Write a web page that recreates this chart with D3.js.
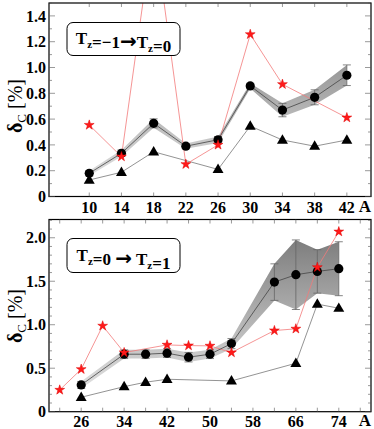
<!DOCTYPE html>
<html>
<head>
<meta charset="utf-8">
<script src="https://cdn.jsdelivr.net/npm/d3@7"></script>
<style>
  body { margin: 0; background: #fff; }
  svg { display: block; }
</style>
</head>
<body>
<div id="chart"></div>
<script>
// ---- top panel: Tz=-1 -> Tz=0 ----
const topA = [10, 14, 18, 22, 26, 30, 34, 38, 42];
const topCircle = [0.18, 0.335, 0.567, 0.39, 0.44, 0.857, 0.67, 0.769, 0.94];
const topErr = [0.02, 0.025, 0.035, 0.02, 0.025, 0.02, 0.052, 0.058, 0.08];
const topTriA = [10, 14, 18, 26, 30, 34, 38, 42];
const topTri = [0.128, 0.188, 0.347, 0.21, 0.546, 0.438, 0.39, 0.438];
const topStarA = [10, 14, 18, 22, 26, 30, 34, 42];
const topStar = [0.554, 0.309, 2.1, 0.25, 0.4, 1.257, 0.87, 0.611];
const topXTicks = [10, 14, 18, 22, 26, 30, 34, 38, 42];
const topYTicks = [0, 0.2, 0.4, 0.6, 0.8, 1.0, 1.2, 1.4];

// ---- bottom panel: Tz=0 -> Tz=1 ----
const botA = [26, 34, 38, 42, 46, 50, 54, 62, 66, 70, 74];
const botCircle = [0.308, 0.661, 0.661, 0.673, 0.627, 0.661, 0.783, 1.49, 1.575, 1.613, 1.644];
const botErr = [0.04, 0.05, 0.05, 0.05, 0.055, 0.05, 0.058, 0.21, 0.40, 0.25, 0.31];
const botTriA = [26, 34, 38, 42, 54, 66, 70, 74];
const botTri = [0.166, 0.288, 0.339, 0.373, 0.354, 0.557, 1.237, 1.19];
const botStarA = [22, 26, 30, 34, 42, 46, 50, 54, 62, 66, 70, 74];
const botStar = [0.25, 0.488, 0.987, 0.68, 0.768, 0.76, 0.757, 0.68, 0.933, 0.953, 1.66, 2.07];
const botXTicks = [22, 26, 30, 34, 38, 42, 46, 50, 54, 58, 62, 66, 70, 74, 78];
const botXLabels = [26, 34, 42, 50, 58, 66, 74];
const botYTicks = [0, 0.5, 1.0, 1.5, 2.0];

const width = 374, height = 429;
const serif = "'Liberation Serif', 'DejaVu Serif', serif";

const svg = d3.select("#chart").append("svg")
    .attr("width", width)
    .attr("height", height);

const defs = svg.append("defs");

function zip(xs, ys) {
  return xs.map((x, i) => ({A: x, v: ys[i]}));
}

function drawPanel(cfg) {
  const x = d3.scaleLinear().domain(cfg.xDomain).range([cfg.left, cfg.right]);
  const y = d3.scaleLinear().domain(cfg.yDomain).range([cfg.bottom, cfg.top]);

  // clip + gradient for the band
  defs.append("clipPath").attr("id", cfg.id + "-clip")
    .append("rect")
      .attr("x", cfg.left).attr("y", cfg.top)
      .attr("width", cfg.right - cfg.left).attr("height", cfg.bottom - cfg.top);

  const grad = defs.append("linearGradient")
      .attr("id", cfg.id + "-grad")
      .attr("gradientUnits", "userSpaceOnUse")
      .attr("x1", 0).attr("x2", 0)
      .attr("y1", cfg.top).attr("y2", cfg.bottom);
  grad.append("stop").attr("offset", "0%").attr("stop-color", cfg.gradTop);
  grad.append("stop").attr("offset", "100%").attr("stop-color", cfg.gradBottom);

  const g = svg.append("g").attr("clip-path", `url(#${cfg.id}-clip)`);

  const circles = cfg.A.map((a, i) => ({A: a, v: cfg.circle[i], e: cfg.err[i]}));

  // error band
  const band = d3.area()
      .x(d => x(d.A))
      .y0(d => y(d.v - d.e))
      .y1(d => y(d.v + d.e));
  g.append("path")
      .datum(circles)
      .attr("d", band)
      .attr("fill", `url(#${cfg.id}-grad)`)
      .attr("stroke", "none");

  // error bars
  const bars = g.append("g")
      .attr("stroke", "#666")
      .attr("stroke-width", 0.8);
  bars.selectAll(".bar")
    .data(circles)
    .join("line")
      .attr("x1", d => x(d.A)).attr("x2", d => x(d.A))
      .attr("y1", d => y(d.v - d.e)).attr("y2", d => y(d.v + d.e));
  bars.selectAll(".capTop")
    .data(circles)
    .join("line")
      .attr("x1", d => x(d.A) - 4).attr("x2", d => x(d.A) + 4)
      .attr("y1", d => y(d.v + d.e)).attr("y2", d => y(d.v + d.e));
  bars.selectAll(".capBot")
    .data(circles)
    .join("line")
      .attr("x1", d => x(d.A) - 4).attr("x2", d => x(d.A) + 4)
      .attr("y1", d => y(d.v - d.e)).attr("y2", d => y(d.v - d.e));

  const line = d3.line().x(d => x(d.A)).y(d => y(d.v));

  const tri = zip(cfg.triA, cfg.tri);
  const star = zip(cfg.starA, cfg.star);

  // connecting lines
  g.append("path").datum(tri)
      .attr("d", line).attr("fill", "none")
      .attr("stroke", "#777").attr("stroke-width", 0.8);
  g.append("path").datum(star)
      .attr("d", line).attr("fill", "none")
      .attr("stroke", "#f27a7a").attr("stroke-width", 0.8);
  g.append("path").datum(circles)
      .attr("d", line).attr("fill", "none")
      .attr("stroke", "#444").attr("stroke-width", 0.8);

  // markers
  g.append("g").selectAll("path")
    .data(tri)
    .join("path")
      .attr("transform", d => `translate(${x(d.A)},${y(d.v) + 0.5})`)
      .attr("d", d3.symbol(d3.symbolTriangle, 52))
      .attr("fill", "#000");
  g.append("g").selectAll("circle")
    .data(circles)
    .join("circle")
      .attr("cx", d => x(d.A))
      .attr("cy", d => y(d.v))
      .attr("r", 4.6)
      .attr("fill", "#000");
  g.append("g").selectAll("path")
    .data(star)
    .join("path")
      .attr("transform", d => `translate(${x(d.A)},${y(d.v)})`)
      .attr("d", d3.symbol(d3.symbolStar, 30))
      .attr("fill", "#ff1a1a")
      .attr("stroke", "#e00000")
      .attr("stroke-width", 0.5);

  // frame
  svg.append("rect")
      .attr("x", cfg.left).attr("y", cfg.top)
      .attr("width", cfg.right - cfg.left).attr("height", cfg.bottom - cfg.top)
      .attr("fill", "none")
      .attr("stroke", "#000")
      .attr("stroke-width", 1.2);

  // x ticks, bottom and top, pointing inward
  const ticks = svg.append("g").attr("stroke", "#555").attr("stroke-width", 0.6);
  ticks.selectAll(".xb")
    .data(cfg.xTicks)
    .join("line")
      .attr("x1", d => x(d)).attr("x2", d => x(d))
      .attr("y1", cfg.bottom).attr("y2", cfg.bottom - 4);
  ticks.selectAll(".xt")
    .data(cfg.xTicks)
    .join("line")
      .attr("x1", d => x(d)).attr("x2", d => x(d))
      .attr("y1", cfg.top).attr("y2", cfg.top + 4);

  // y ticks every 0.1, longer on labelled values
  const yMinor = d3.range(0, cfg.yDomain[1] + 1e-6, 0.1).map(v => +v.toFixed(1));
  const isMajor = v => cfg.yTicks.some(t => Math.abs(t - v) < 1e-6);
  ticks.selectAll(".yl")
    .data(yMinor)
    .join("line")
      .attr("x1", cfg.left).attr("x2", d => cfg.left + (isMajor(d) ? 6 : 3))
      .attr("y1", d => y(d)).attr("y2", d => y(d));
  ticks.selectAll(".yr")
    .data(yMinor)
    .join("line")
      .attr("x1", cfg.right).attr("x2", d => cfg.right - (isMajor(d) ? 6 : 3))
      .attr("y1", d => y(d)).attr("y2", d => y(d));

  // tick labels
  svg.append("g").selectAll("text")
    .data(cfg.xLabels)
    .join("text")
      .attr("x", d => x(d))
      .attr("y", cfg.bottom + cfg.xLabelDy)
      .attr("text-anchor", "middle")
      .attr("font-family", serif)
      .attr("font-weight", "bold")
      .attr("font-size", "16px")
      .text(d => d);

  svg.append("g").selectAll("text")
    .data(cfg.yTicks)
    .join("text")
      .attr("x", cfg.left - 3)
      .attr("y", d => y(d))
      .attr("dy", "0.35em")
      .attr("text-anchor", "end")
      .attr("font-family", serif)
      .attr("font-weight", "bold")
      .attr("font-size", "16px")
      .text(d => d === 0 ? "0" : d.toFixed(1));

  // "A" axis title
  svg.append("text")
      .attr("x", 365)
      .attr("y", cfg.bottom + cfg.xLabelDy - 1)
      .attr("text-anchor", "middle")
      .attr("font-family", serif)
      .attr("font-weight", "bold")
      .attr("font-size", "17px")
      .text("A");

  // y axis title
  const yt = svg.append("text")
      .attr("transform", `translate(22,${cfg.yTitleY}) rotate(-90)`)
      .attr("text-anchor", "middle")
      .attr("font-family", serif)
      .attr("font-size", "20px");
  yt.append("tspan").attr("font-weight", "bold").text("δ");
  yt.append("tspan").attr("font-size", "13px").attr("dy", 4).text("C");
  yt.append("tspan").attr("dy", -4).text(" [%]");

  // legend box
  svg.append("rect")
      .attr("x", cfg.legend.x).attr("y", cfg.legend.y)
      .attr("width", cfg.legend.w).attr("height", cfg.legend.h)
      .attr("rx", 6)
      .attr("fill", "#fff")
      .attr("stroke", "#000")
      .attr("stroke-width", 1);
  const lt = svg.append("text")
      .attr("x", cfg.legend.x + cfg.legend.w / 2)
      .attr("y", cfg.legend.y + cfg.legend.h / 2 + 5)
      .attr("text-anchor", "middle")
      .attr("font-family", serif)
      .attr("font-weight", "bold")
      .attr("font-size", "17px");
  cfg.legend.parts.forEach(p => {
    if (p.sub) {
      lt.append("tspan").attr("font-size", "11px").attr("dy", 4).text(p.sub);
      lt.append("tspan").attr("dy", -4).text("");
    } else if (p.arrow) {
      lt.append("tspan").attr("font-size", "20px").attr("font-family", "'DejaVu Sans', sans-serif").text(p.arrow);
    } else {
      lt.append("tspan").text(p.t);
    }
  });
}

drawPanel({
  id: "top",
  left: 49, right: 371, top: 3, bottom: 196.5,
  xDomain: [5, 45], yDomain: [0, 1.5],
  A: topA, circle: topCircle, err: topErr,
  triA: topTriA, tri: topTri,
  starA: topStarA, star: topStar,
  xTicks: topXTicks, xLabels: topXTicks, yTicks: topYTicks,
  xLabelDy: 16,
  gradTop: "#6e6e6e", gradBottom: "#ececec",
  yTitleY: 106,
  legend: {x: 67, y: 22.5, w: 113, h: 33,
    parts: [{t: "T"}, {sub: "z"}, {t: "=−1"}, {arrow: "→"}, {t: "T"}, {sub: "z"}, {t: "=0"}]}
});

drawPanel({
  id: "bot",
  left: 49, right: 371, top: 219.5, bottom: 411.7,
  xDomain: [20, 80], yDomain: [0, 2.21],
  A: botA, circle: botCircle, err: botErr,
  triA: botTriA, tri: botTri,
  starA: botStarA, star: botStar,
  xTicks: botXTicks, xLabels: botXLabels, yTicks: botYTicks,
  xLabelDy: 15,
  gradTop: "#707070", gradBottom: "#f0f0f0",
  yTitleY: 316,
  legend: {x: 67, y: 238.5, w: 113, h: 34,
    parts: [{t: "T"}, {sub: "z"}, {t: "=0 "}, {arrow: "→"}, {t: " T"}, {sub: "z"}, {t: "=1"}]}
});
</script>
</body>
</html>
